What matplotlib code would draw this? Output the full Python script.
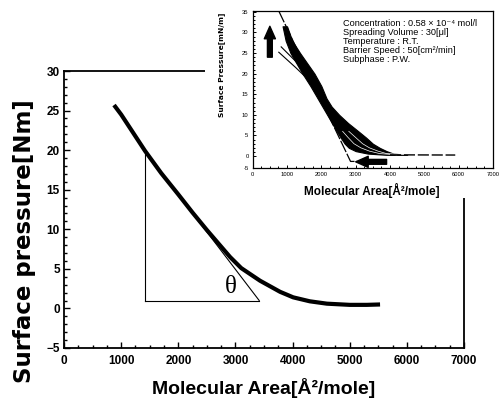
import matplotlib
matplotlib.use('Agg')
import matplotlib.pyplot as plt
from matplotlib.ticker import AutoMinorLocator, FixedLocator
from matplotlib.patches import Rectangle

# ---------------- data ----------------
# main isotherm
main_x = [875, 1000, 1200, 1418, 1700, 2000, 2250, 2500, 2750, 2905, 3100,
          3430, 3780, 4010, 4300, 4600, 5000, 5300, 5530]
main_y = [25.7, 24.5, 22.3, 19.9, 17.1, 14.4, 12.1, 9.9, 7.8, 6.5, 5.1,
          3.5, 2.1, 1.4, 0.9, 0.6, 0.45, 0.45, 0.5]
# tangent triangle (limiting-area construction)
tangent_x = [1418, 3415]
tangent_y = [19.9, 1.0]
base_y = 1.0
theta_pos = (2923, 2.7)

main_xticks = [0, 1000, 2000, 3000, 4000, 5000, 6000, 7000]
main_yticks = [-5, 0, 5, 10, 15, 20, 25, 30]

# inset: envelope of the repeated isotherms (bundle)
band_levels = [31.5, 28, 25, 20, 17, 14, 12, 10, 8, 6, 4.5, 3, 2, 1.2, 0.6, 0.3]
band_left_x = [870, 960, 1100, 1450, 1680, 1890, 2030, 2170, 2310, 2450, 2560,
               2680, 2800, 3000, 3350, 3900]
band_right_x = [1000, 1150, 1380, 1800, 2000, 2150, 2300, 2520, 2780, 3080, 3300,
                3500, 3700, 3900, 4100, 4500]
# a few individual strands inside the bundle
strand_levels = [6, 4.5, 3, 2, 1.2, 0.6, 0.3]
strand_x = [
    [2620, 2780, 2950, 3150, 3400, 3700, 4200],
    [2800, 3000, 3200, 3400, 3650, 3900, 4600],
]
thin_x = [[760, 1250, 1500], [830, 1300, 1560]]
thin_y = [[25.2, 21.5, 19.5], [26.5, 22.6, 20.2]]
steep_x = [760, 2850, 3050]
steep_y = [35.2, -1.3, -1.3]
tail_x = [4000, 5900]
tail_y = [0.3, 0.25]
up_arrow = ((500, 24.0), (500, 31.5))
left_arrow = ((3900, -1.4), (3000, -1.4))

inset_xticks = [0, 1000, 2000, 3000, 4000, 5000, 6000, 7000]
inset_yticks = [-2.9, 0, 5, 10, 15, 20, 25, 30, 35]
inset_ylabels = ['-5', '0', '5', '10', '15', '20', '25', '30', '35']

info_lines = [
    'Concentration : 0.58 \u00d7 10\u207b\u2074 mol/l',
    'Spreading Volume : 30[\u03bcl]',
    'Temperature : R.T.',
    'Barrier Speed : 50[cm\u00b2/min]',
    'Subphase : P.W.',
]

# ---------------- figure ----------------
fig = plt.figure(figsize=(4.99, 4.01), dpi=100)
fig.patch.set_facecolor('white')

ax = fig.add_axes([0.1283, 0.1322, 0.8017, 0.6907])
ax.plot(main_x, main_y, color='black', lw=3.0, solid_capstyle='butt', zorder=3)
ax.plot([tangent_x[0], tangent_x[0]], [base_y, tangent_y[0]], color='black', lw=0.8)
ax.plot([tangent_x[0], tangent_x[1]], [base_y, base_y], color='black', lw=0.8)
ax.plot(tangent_x, tangent_y, color='black', lw=0.8)
ax.text(theta_pos[0], theta_pos[1], '\u03b8', family='Liberation Serif',
        fontsize=18, ha='center', va='center')

ax.set_xlim(0, 7000)
ax.set_ylim(-5, 30)
ax.xaxis.set_major_locator(FixedLocator(main_xticks))
ax.yaxis.set_major_locator(FixedLocator(main_yticks))
ax.xaxis.set_minor_locator(AutoMinorLocator(4))
ax.yaxis.set_minor_locator(AutoMinorLocator(5))
ax.tick_params(which='both', direction='in', top=False, right=False, width=1.0)
ax.tick_params(which='major', length=4)
ax.tick_params(which='minor', length=2)
ax.tick_params(axis='y', pad=3)
ax.tick_params(axis='x', pad=5)
for lab in ax.get_xticklabels() + ax.get_yticklabels():
    lab.set_family('Liberation Sans')
    lab.set_fontweight('bold')
    lab.set_fontsize(8.5)
for s in ax.spines.values():
    s.set_linewidth(1.3)

ax.set_xlabel('Molecular Area[\u00c5\u00b2/mole]', family='Liberation Sans',
              fontweight='bold', fontsize=14)
ax.xaxis.set_label_coords(0.5, -0.144)
ax.xaxis.label.set_va('center')
ax.set_ylabel('Surface pressure[Nm]', family='DejaVu Sans', fontweight='bold',
              fontsize=16.5)
ax.yaxis.set_label_coords(-0.1, 0.385)
ax.yaxis.label.set_va('center')

# white area behind the inset
fig.add_artist(Rectangle((0.411, 0.505), 0.589, 0.495, transform=fig.transFigure,
                         facecolor='white', edgecolor='none', zorder=1))

# ---------------- inset ----------------
ins = fig.add_axes([0.5064, 0.581, 0.4816, 0.3915], zorder=2)
ins.fill_betweenx(band_levels, band_left_x, band_right_x, color='black', lw=0.8,
                  edgecolor='black')
for sx in strand_x:
    ins.plot(sx, strand_levels, color='white', lw=0.5)
for tx, ty in zip(thin_x, thin_y):
    ins.plot(tx, ty, color='black', lw=0.8)
ins.plot(steep_x, steep_y, color='black', lw=0.9, dashes=(10, 1.5))
ins.plot(tail_x, tail_y, color='black', lw=1.0, dashes=(8, 2))
for (start, end) in (up_arrow, left_arrow):
    ins.annotate('', xy=end, xytext=start,
                 arrowprops=dict(arrowstyle='simple,head_length=0.9,head_width=0.8,tail_width=0.35',
                                 color='black', shrinkA=0, shrinkB=0))

for i, line in enumerate(info_lines):
    ins.text(0.375, 0.9076 - i * 0.0585, line, transform=ins.transAxes,
             family=['Liberation Sans', 'DejaVu Sans'], fontsize=6.6,
             ha='left', va='baseline')

ins.set_xlim(0, 7000)
ins.set_ylim(-2.9, 35.2)
ins.xaxis.set_major_locator(FixedLocator(inset_xticks))
ins.set_yticks(inset_yticks)
ins.set_yticklabels(inset_ylabels)
ins.xaxis.set_minor_locator(AutoMinorLocator(4))
ins.yaxis.set_minor_locator(FixedLocator([1, 2, 3, 4, 6, 7, 8, 9, 11, 12, 13, 14,
                                          16, 17, 18, 19, 21, 22, 23, 24, 26, 27,
                                          28, 29, 31, 32, 33, 34]))
ins.tick_params(which='both', direction='in', width=0.7, labelsize=4.2, pad=3)
ins.tick_params(which='major', length=2.5)
ins.tick_params(which='minor', length=1.2)
for lab in ins.get_xticklabels() + ins.get_yticklabels():
    lab.set_family('Liberation Sans')
for s in ins.spines.values():
    s.set_linewidth(0.9)
ins.set_xlabel('Molecular Area[\u00c5\u00b2/mole]', family='Liberation Sans',
               fontweight='bold', fontsize=8.5)
ins.xaxis.set_label_coords(0.496, -0.146)
ins.xaxis.label.set_va('center')
ins.set_ylabel('Surface Pressure[mN/m]', family='DejaVu Sans', fontweight='bold',
               fontsize=5.4)
ins.yaxis.set_label_coords(-0.128, 0.656)
ins.yaxis.label.set_va('center')

fig.savefig('out.png', dpi=100, facecolor='white')
